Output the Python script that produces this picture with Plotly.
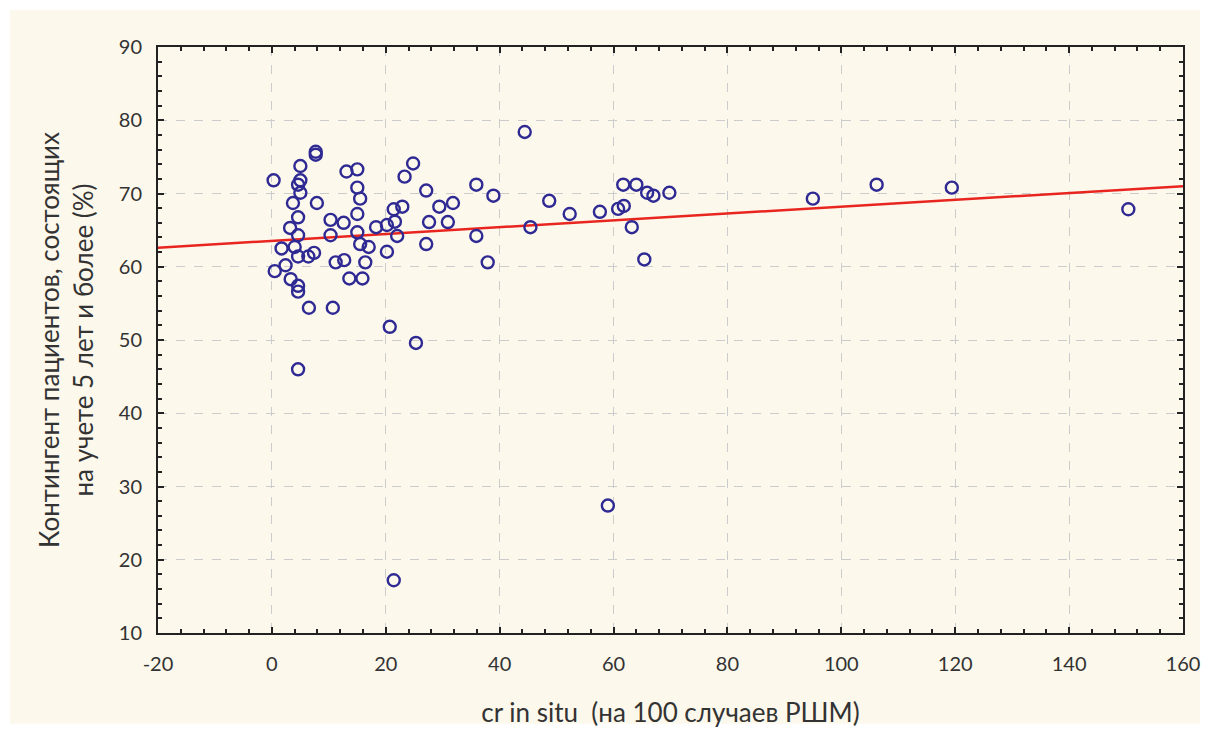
import plotly.graph_objects as go

# Data
x_vals = [0.3, 7.7, 7.7, 5.0, 5.0, 4.6, 5.0, 3.7, 7.9, 4.6, 3.2, 4.6, 1.7, 4.0, 4.6, 6.4, 7.4,
          2.4, 0.5, 3.3, 4.6, 4.6, 6.5, 10.7, 4.6, 13.1, 15.0, 15.0, 15.5, 10.3, 12.6, 15.0,
          10.3, 15.0, 18.3, 15.5, 17.0, 11.2, 12.7, 16.4, 13.6, 15.9, 24.8, 23.3, 27.1, 35.9,
          38.9, 21.4, 22.9, 29.4, 31.8, 20.2, 21.6, 27.6, 30.9, 22.0, 35.9, 20.2, 27.1, 37.9,
          20.7, 25.3, 44.4, 48.7, 52.3, 57.6, 45.4, 60.8, 61.8, 61.7, 64.0, 65.9, 67.0, 69.8,
          63.2, 65.4, 59.0, 21.4, 95.0, 106.2, 119.4, 150.4]
y_vals = [71.8, 75.7, 75.3, 73.75, 71.8, 71.2, 70.1, 68.7, 68.7, 66.75, 65.3, 64.3, 62.5, 62.7,
          61.4, 61.4, 61.9, 60.2, 59.4, 58.3, 57.4, 56.6, 54.4, 54.4, 46.0, 73.0, 73.3, 70.8,
          69.3, 66.4, 66.0, 67.2, 64.3, 64.7, 65.4, 63.1, 62.7, 60.6, 60.9, 60.6, 58.4, 58.4,
          74.1, 72.3, 70.4, 71.2, 69.7, 67.85, 68.2, 68.2, 68.7, 65.7, 66.15, 66.1, 66.1, 64.2,
          64.2, 62.05, 63.1, 60.6, 51.8, 49.6, 78.4, 69.0, 67.2, 67.5, 65.4, 67.9, 68.3, 71.2,
          71.2, 70.1, 69.7, 70.1, 65.4, 61.0, 27.4, 17.2, 69.3, 71.2, 70.8, 67.85]

fit_intercept = 63.53
fit_slope = 0.0467
x_range = [-20, 160]
y_range = [10, 90]
x_tickvals = [-20, 0, 20, 40, 60, 80, 100, 120, 140, 160]
x_ticktext = ["-20", "0", "20", "40", "60", "80", "100", "120", "140", "160"]
y_tickvals = [10, 20, 30, 40, 50, 60, 70, 80, 90]
y_ticktext = ["10", "20", "30", "40", "50", "60", "70", "80", "90"]

fit_x = x_range
fit_y = [fit_intercept + fit_slope * v for v in fit_x]

x_title = "cr in situ  (на 100 случаев РШМ)"
y_title = "Контингент пациентов, состоящих<br>на учете 5 лет и более (%)"

cream = "#FCF8EC"
font_family = "Lato, 'Open Sans', sans-serif"
text_color = "#333333"

fig = go.Figure()
fig.add_trace(go.Scatter(
    x=fit_x, y=fit_y, mode="lines",
    line=dict(color="#E8261F", width=2.5),
    showlegend=False, hoverinfo="skip"))
fig.add_trace(go.Scatter(
    x=x_vals, y=y_vals, mode="markers",
    marker=dict(symbol="circle-open", size=12, color="#2F2A93",
                line=dict(width=2.4, color="#2F2A93")),
    showlegend=False))

axis_common = dict(
    showline=True, linewidth=2, linecolor="#222222", mirror="allticks",
    ticks="inside", ticklen=6, tickwidth=2, tickcolor="#222222",
    showgrid=True, gridcolor="#CCCCCC", griddash="dash", gridwidth=1,
    zeroline=False, automargin=False,
    tickfont=dict(family=font_family, size=20, color=text_color),
)

fig.update_xaxes(
    range=x_range, tickvals=x_tickvals, ticktext=x_ticktext,
    ticklabelstandoff=12,
    minor=dict(dtick=4, tick0=-20, ticks="inside", ticklen=4, tickwidth=2, tickcolor="#222222", showgrid=False),
    title=dict(text=x_title, font=dict(family=font_family, size=26, color=text_color), standoff=30),
    **axis_common)
fig.update_yaxes(
    range=y_range, tickvals=y_tickvals, ticktext=y_ticktext,
    ticklabelstandoff=10,
    minor=dict(dtick=2, tick0=10, ticks="inside", ticklen=4, tickwidth=2, tickcolor="#222222", showgrid=False),
    title=dict(text=y_title, font=dict(family=font_family, size=26, color=text_color), standoff=18),
    **axis_common)

fig.update_layout(
    width=1210, height=734,
    margin=dict(l=158, r=27, t=47, b=101),
    paper_bgcolor="white",
    plot_bgcolor="white",
    shapes=[dict(type="rect", xref="paper", yref="paper",
                 x0=-0.1444, x1=1.0166, y0=-0.155, y1=1.063,
                 fillcolor=cream, line=dict(width=0), layer="below")],
)

fig.write_html("out.html")
